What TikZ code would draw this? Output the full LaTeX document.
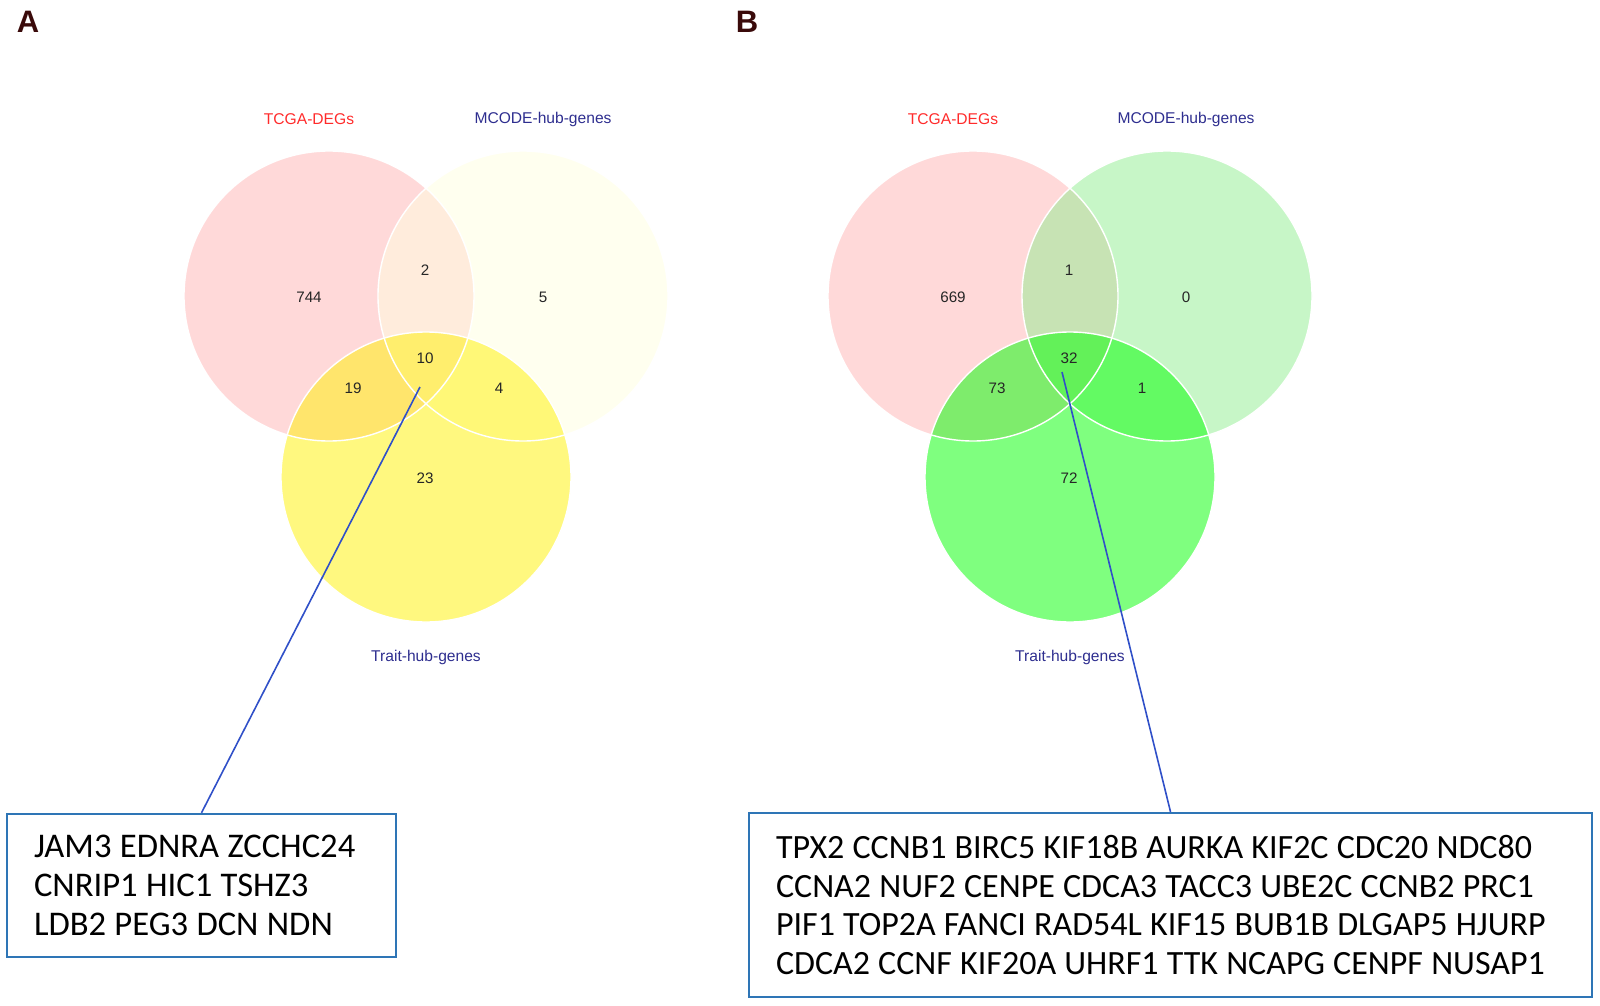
\documentclass[tikz,border=0pt]{standalone}
\usepackage{fontspec}
\setmainfont{Liberation Sans}
\newfontfamily\genefont{Carlito}
\definecolor{setred}{HTML}{FF2B2B}
\definecolor{setnavy}{HTML}{2E2E8F}
\definecolor{panelink}{HTML}{3A0A0A}
\definecolor{boxblue}{HTML}{2E75B6}
\definecolor{pointblue}{HTML}{3050C8}
\definecolor{paleyellow}{HTML}{FFFFE0}
\definecolor{palegreen}{HTML}{90EE90}

\begin{document}
\begin{tikzpicture}[x=0.5pt,y=-0.5pt,
    panel/.style={font=\bfseries\fontsize{15.5}{16}\selectfont,text=panelink},
    setlabel/.style={font=\fontsize{7.8}{8}\selectfont},
    count/.style={font=\fontsize{7.6}{8}\selectfont,text=black!85},
    rim/.style={draw=white,line width=0.7pt},
    genebox/.style={draw=boxblue,line width=1.2pt,align=left,inner xsep=13.5pt,
        execute at begin node={\spaceskip=0.24em\relax}},
    pointer/.style={draw=pointblue,line width=0.8pt}]
    \useasboundingbox (0,0) rectangle (1600,1006);

    \node[panel] (pA) at (28,22) {A};
    \node[panel] (pB) at (747,22) {B};

    \fill[red,fill opacity=0.15] (329,296) circle[radius=72.5pt];
    \fill[paleyellow,fill opacity=0.5] (523,296) circle[radius=72.5pt];
    \fill[yellow,fill opacity=0.5] (426,477) circle[radius=72.5pt];
    \draw[rim] (329,296) circle[radius=72.5pt];
    \draw[rim] (523,296) circle[radius=72.5pt];
    \draw[rim] (426,477) circle[radius=72.5pt];

    \fill[red,fill opacity=0.15] (973,296) circle[radius=72.5pt];
    \fill[palegreen,fill opacity=0.5] (1167,296) circle[radius=72.5pt];
    \fill[green,fill opacity=0.5] (1070,477) circle[radius=72.5pt];
    \draw[rim] (973,296) circle[radius=72.5pt];
    \draw[rim] (1167,296) circle[radius=72.5pt];
    \draw[rim] (1070,477) circle[radius=72.5pt];

    \node[setlabel,text=setred] (tcgaA) at (309,119) {TCGA-DEGs};
    \node[setlabel,text=setnavy] (mcodeA) at (543,119) {MCODE-hub-genes};
    \node[setlabel,text=setnavy] (traitA) at (426,657) {Trait-hub-genes};
    \node[setlabel,text=setred] (tcgaB) at (953,119) {TCGA-DEGs};
    \node[setlabel,text=setnavy] (mcodeB) at (1186,119) {MCODE-hub-genes};
    \node[setlabel,text=setnavy] (traitB) at (1070,657) {Trait-hub-genes};

    \node[count] (a744) at (309,297) {744};
    \node[count] (a2) at (425,270) {2};
    \node[count] (a5) at (543,297) {5};
    \node[count] (a10) at (425,358) {10};
    \node[count] (a19) at (353,388) {19};
    \node[count] (a4) at (499,388) {4};
    \node[count] (a23) at (425,478) {23};

    \node[count] (b669) at (953,297) {669};
    \node[count] (b1top) at (1069,270) {1};
    \node[count] (b0) at (1186,297) {0};
    \node[count] (b32) at (1069,358) {32};
    \node[count] (b73) at (997,388) {73};
    \node[count] (b1right) at (1142,388) {1};
    \node[count] (b72) at (1069,478) {72};

    \node[genebox,text width=167.5pt,minimum height=71.5pt,
        font=\genefont\fontsize{17.3}{19.5}\selectfont] (boxA) at (201.5,885.5)
        {JAM3 EDNRA ZCCHC24\\CNRIP1 HIC1 TSHZ3\\LDB2 PEG3 DCN NDN};
    \node[genebox,text width=394.5pt,minimum height=92pt,
        font=\genefont\fontsize{17}{19.3}\selectfont] (boxB) at (1170.5,905)
        {TPX2 CCNB1 BIRC5 KIF18B AURKA KIF2C CDC20 NDC80\\CCNA2 NUF2 CENPE CDCA3 TACC3 UBE2C CCNB2 PRC1\\PIF1 TOP2A FANCI RAD54L KIF15 BUB1B DLGAP5 HJURP\\CDCA2 CCNF KIF20A UHRF1 TTK NCAPG CENPF NUSAP1};

    \coordinate (tipA) at (420,387);
    \coordinate (tipB) at (1062,372);
    \draw[pointer] (tipA) -- (boxA.north);
    \draw[pointer] (tipB) -- (boxB.north);
\end{tikzpicture}
\end{document}
